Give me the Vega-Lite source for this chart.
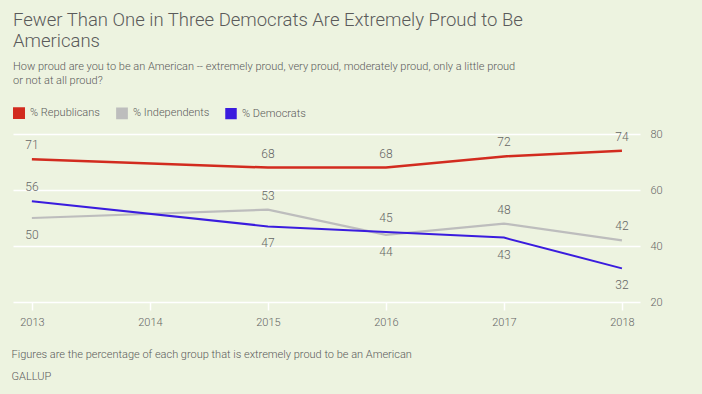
{
  "$schema": "https://vega.github.io/schema/vega-lite/v6.json",
  "width": 627,
  "height": 168,
  "autosize": {"type": "none"},
  "padding": {"left": 13, "top": 134, "right": 62, "bottom": 92},
  "background": "#edf3e0",
  "config": {
    "view": {"stroke": null},
    "font": "Roboto",
    "axis": {"labelFont": "Roboto", "titleFont": "Roboto"},
    "legend": {"labelFont": "Roboto"}
  },
  "title": {
    "text": ["Fewer Than One in Three Democrats Are Extremely Proud to Be", "Americans"],
    "subtitle": ["How proud are you to be an American -- extremely proud, very proud, moderately proud, only a little proud", "or not at all proud?"],
    "anchor": "start",
    "frame": "group",
    "dx": 0,
    "font": "Roboto",
    "fontSize": 18.5,
    "fontWeight": 300,
    "color": "#5a5a5a",
    "lineHeight": 21,
    "subtitleFont": "Roboto",
    "subtitleFontSize": 11,
    "subtitleFontWeight": 300,
    "subtitleColor": "#5a5a5a",
    "subtitleLineHeight": 14,
    "subtitlePadding": 11,
    "offset": 21
  },
  "data": {
    "values": [
      {"year": 2013, "party": "% Republicans", "value": 71},
      {"year": 2015, "party": "% Republicans", "value": 68},
      {"year": 2016, "party": "% Republicans", "value": 68},
      {"year": 2017, "party": "% Republicans", "value": 72},
      {"year": 2018, "party": "% Republicans", "value": 74},
      {"year": 2013, "party": "% Independents", "value": 50},
      {"year": 2015, "party": "% Independents", "value": 53},
      {"year": 2016, "party": "% Independents", "value": 44},
      {"year": 2017, "party": "% Independents", "value": 48},
      {"year": 2018, "party": "% Independents", "value": 42},
      {"year": 2013, "party": "% Democrats", "value": 56},
      {"year": 2015, "party": "% Democrats", "value": 47},
      {"year": 2016, "party": "% Democrats", "value": 45},
      {"year": 2017, "party": "% Democrats", "value": 43},
      {"year": 2018, "party": "% Democrats", "value": 32}
    ]
  },
  "encoding": {
    "x": {
      "field": "year",
      "type": "quantitative",
      "scale": {"domain": [2012.84, 2018.153], "nice": false, "zero": false},
      "axis": {
        "values": [2013, 2014, 2015, 2016, 2017, 2018],
        "format": "d",
        "grid": false,
        "domain": false,
        "tickColor": "#ffffff",
        "tickWidth": 1.5,
        "tickSize": 8,
        "labelFontSize": 11,
        "labelFontWeight": 300,
        "labelColor": "#666666",
        "labelPadding": 6,
        "title": ["Figures are the percentage of each group that is extremely proud to be an American", "GALLUP"],
        "titleAnchor": "start",
        "titleAlign": "left",
        "titleX": -2,
        "titleFontSize": 11,
        "titleFontWeight": 300,
        "titleColor": "#5a5a5a",
        "titleLineHeight": 22,
        "titlePadding": 21
      }
    },
    "y": {
      "field": "value",
      "type": "quantitative",
      "scale": {"domain": [20, 80], "nice": false},
      "axis": {
        "orient": "right",
        "values": [20, 40, 60, 80],
        "grid": true,
        "gridColor": "#ffffff",
        "gridWidth": 1.5,
        "domain": false,
        "ticks": false,
        "labelFontSize": 11,
        "labelFontWeight": 300,
        "labelColor": "#666666",
        "labelPadding": 10,
        "title": null
      }
    }
  },
  "layer": [
    {
      "mark": {"type": "line", "interpolate": "linear"},
      "encoding": {
        "color": {
          "field": "party",
          "type": "nominal",
          "scale": {
            "domain": ["% Republicans", "% Independents", "% Democrats"],
            "range": ["#d22b1f", "#bdbdbd", "#3a1cde"]
          },
          "legend": {
            "title": null,
            "orient": "top",
            "direction": "horizontal",
            "symbolType": "square",
            "symbolSize": 90,
            "symbolStrokeWidth": 0,
            "labelFontSize": 11,
            "labelFontWeight": 300,
            "labelColor": "#5a5a5a",
            "columnPadding": 12,
            "labelOffset": 5,
            "offset": 11,
            "padding": 0,
            "encode": {"symbols": {"update": {"fill": {"scale": "color", "field": "value"}, "fillOpacity": {"value": 1}}}}
          }
        },
        "strokeWidth": {
          "field": "party",
          "type": "nominal",
          "scale": {"domain": ["% Republicans", "% Independents", "% Democrats"], "range": [2.5, 2, 2.5]},
          "legend": null
        }
      }
    },
    {
      "transform": [
        {"filter": "datum.party == '% Republicans' || (datum.party == '% Independents' && (datum.year == 2015 || datum.year == 2017 || datum.year == 2018)) || (datum.party == '% Democrats' && (datum.year == 2013 || datum.year == 2016))"}
      ],
      "mark": {"type": "text", "dy": -14, "baseline": "middle", "align": "center", "fontSize": 12, "fontWeight": 300, "color": "#666666"},
      "encoding": {"text": {"field": "value", "type": "quantitative"}}
    },
    {
      "transform": [
        {"filter": "(datum.party == '% Independents' && (datum.year == 2013 || datum.year == 2016)) || (datum.party == '% Democrats' && (datum.year == 2015 || datum.year == 2017 || datum.year == 2018))"}
      ],
      "mark": {"type": "text", "dy": 17, "baseline": "middle", "align": "center", "fontSize": 12, "fontWeight": 300, "color": "#666666"},
      "encoding": {"text": {"field": "value", "type": "quantitative"}}
    }
  ]
}
